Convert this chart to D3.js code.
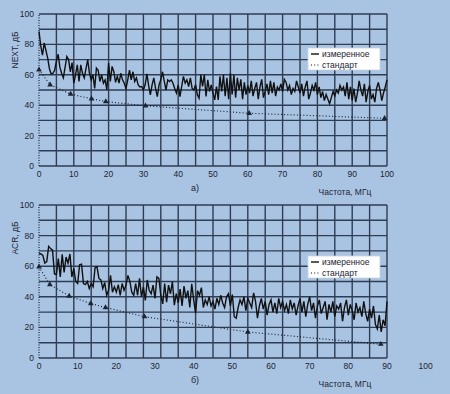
<!DOCTYPE html>
<html lang="ru">
<head>
  <meta charset="UTF-8">
  <title>NEXT / ACR</title>
  <script src="https://d3js.org/d3.v7.min.js"></script>
  <style>
    body { margin: 0; background: #a9c4e2; }
    svg { display: block; }
    text { font-family: "Liberation Sans Narrow", "Arial Narrow", Arial, sans-serif; fill: #1c2433; }
    .grid { stroke: #2f3c52; stroke-width: 1.4px; }
    .meas { fill: none; stroke: #111; stroke-width: 1.4px; }
    .std { fill: none; stroke: #1c2433; stroke-width: 1.2px; stroke-dasharray: 1 2.2; }
  </style>
</head>
<body>
<svg id="svg"></svg>
<script>
// frequency step of the measured curves, MHz
const step = 0.5;

// NEXT (a): measured, every 0.5 MHz from 0 to 100
const nextMeasured = [
  88.6, 79, 73, 81, 76, 71, 64, 60.5, 61, 63, 69,
  73.5, 65, 61, 58, 65, 72, 70, 62, 68, 54.5,
  60, 66.6, 55.6, 66.6, 61, 58, 64, 70, 61, 56.7,
  60, 51, 64.4, 63, 55.6, 60, 54.5, 56.7, 50, 67.7,
  55.6, 65.5, 62, 55, 59, 54.5, 61, 56.7, 54.5, 51,
  56.7, 63, 56.7, 62, 55.6, 58, 53.4, 52, 52.3, 50,
  53.4, 60.6, 53, 46.8, 53.4, 58, 51, 45.7, 53.4, 56.7,
  62, 55.6, 50, 56.7, 55.6, 56.7, 54.5, 51, 48, 53.4,
  45.7, 52.3, 59, 54.5, 56.7, 52.3, 58, 51, 50, 53.4,
  46.8, 44.6, 60, 52.3, 60, 45.7, 56.7, 49, 53.4, 48,
  43.5, 52.3, 43.5, 59, 49, 60, 46, 58, 44, 61,
  47, 60, 45, 58, 50, 57, 44, 55, 47, 53,
  48, 56, 46, 51, 55, 44, 52, 57, 45, 49,
  54, 47, 56, 48, 55, 46, 52, 50, 54, 49,
  57, 55, 50, 53, 47, 51, 49, 56, 52, 48,
  54, 46, 52, 56, 44, 48, 53, 50, 55, 47,
  52, 45, 49, 43, 47, 44, 41, 45, 49, 46,
  50, 48, 53, 50, 52, 46, 55, 44, 52, 43,
  51, 42, 48, 56, 50, 46, 54, 42, 49, 53,
  44, 47, 42, 51, 55, 50, 43, 48, 52, 56.7
];
// NEXT (a): standard
const nextStdFreq = [0, 3.2, 9.1, 15.1, 19.2, 30.6, 60.4, 99.3];
const nextStdVal  = [63.3, 53.4, 47.3, 44.2, 42.4, 39.6, 34.7, 31.4];

// ACR (b): measured, every 0.5 MHz from 0 to 90
const acrMeasured = [
  68.3, 68, 67, 62, 63, 73, 71.5, 70.5, 55, 54.6, 65,
  53, 67.7, 56, 66, 62, 68, 53, 58.5, 50, 48.7,
  61, 61.4, 48.7, 48, 50, 45.4, 48.7, 46.5, 59, 59.6,
  52, 51, 45.4, 49.3, 41, 44.3, 54, 43, 46.5, 43,
  48, 41, 48.7, 44.3, 47.6, 54, 50, 43, 41, 48.7,
  41, 52, 40, 46.5, 37.6, 51, 44.3, 42, 47.6, 38.9,
  53, 52, 41, 35.4, 48.7, 36.5, 47.6, 42, 50, 34.5,
  42, 36, 45, 34, 47, 39, 44, 33, 48.5, 38,
  29.3, 44, 41, 46, 33, 38, 35, 40, 34, 37,
  32, 39, 35, 41, 36, 33, 40, 42, 34, 41.5,
  27, 26, 33, 38, 35, 40, 31, 39, 36, 33,
  42.6, 37, 26, 34, 39, 32, 37, 28, 35, 38,
  30, 36, 29, 39, 33, 37, 31, 35, 29, 38,
  32, 36, 28, 34, 39, 30, 37, 27, 35, 40,
  31, 36, 26, 34, 38, 29, 33, 37, 25, 35,
  30, 37, 27, 34, 32, 36, 24, 33, 38, 28,
  35, 31, 25, 36, 30, 33, 27, 37, 29, 24,
  32, 26, 34, 22, 19, 28, 17, 25, 21, 37
];
// ACR (b): standard
const acrStdFreq = [0, 2.8, 7.8, 13.4, 17.2, 27.3, 54, 88.4];
const acrStdVal  = [59.6, 48, 40.5, 35.6, 33, 27, 17, 9];

const xTicks = [0, 10, 20, 30, 40, 50, 60, 70, 80, 90, 100];
const yTicks = [0, 20, 40, 60, 80, 100];
const legendNames = ["измеренное", "стандарт"];

const W = 450, H = 394;
const svg = d3.select("#svg").attr("width", W).attr("height", H);
svg.append("rect").attr("width", W).attr("height", H).attr("fill", "#a9c4e2");

function drawPanel(p) {
  const g = svg.append("g");
  const x = d3.scaleLinear().domain([0, p.xMax]).range([39, 387]);
  const y = d3.scaleLinear().domain([0, 100]).range([p.bottom, p.top]);

  // grid: 20 columns across the plot, rows every 10
  const cols = d3.range(0, 21).map(i => i * p.xMax / 20);
  g.selectAll(".vg").data(cols).join("line")
    .attr("class", "grid")
    .attr("x1", d => x(d)).attr("x2", d => x(d))
    .attr("y1", y(0)).attr("y2", y(100))
    .attr("stroke-dasharray", d => d == 0 ? "1 1.5" : null)
    .attr("stroke-width", d => d == 0 ? 1 : null);
  g.selectAll(".hg").data(d3.range(0, 101, 10)).join("line")
    .attr("class", "grid")
    .attr("x1", x(0)).attr("x2", x(p.xMax))
    .attr("y1", d => y(d)).attr("y2", d => y(d));

  // tick labels
  g.selectAll(".yt").data(yTicks).join("text")
    .attr("x", 34).attr("y", d => y(d) + 3)
    .attr("text-anchor", "end").attr("font-size", 8.5)
    .text(d => d);
  g.selectAll(".xt").data(xTicks).join("text")
    .attr("x", d => x(d)).attr("y", y(0) + 11)
    .attr("text-anchor", "middle").attr("font-size", 8.5)
    .text(d => d);

  // axis titles
  g.append("text")
    .attr("transform", `translate(18,${p.yLabelAt}) rotate(-90)`)
    .attr("text-anchor", "middle").attr("font-size", 8.5)
    .text(p.yLabel);
  g.append("text").attr("x", 195).attr("y", y(0) + 25)
    .attr("text-anchor", "middle").attr("font-size", 9).text(p.tag);
  g.append("text").attr("x", 345).attr("y", y(0) + 29)
    .attr("text-anchor", "middle").attr("font-size", 8.5).text("Частота, МГц");

  // standard curve and markers
  const std = p.stdFreq.map((f, i) => [f, p.stdVal[i]]);
  g.append("path").attr("class", "std")
    .attr("d", d3.line().x(d => x(d[0])).y(d => y(d[1]))(std));
  g.selectAll(".mk").data(std).join("path")
    .attr("d", d3.symbol(d3.symbolTriangle, 14))
    .attr("transform", d => `translate(${x(d[0])},${y(d[1])})`)
    .attr("fill", "#1c2433");

  // measured curve
  g.append("path").attr("class", "meas")
    .attr("d", d3.line().x((d, i) => x(i * step)).y(d => y(d))(p.measured));

  // legend
  const lg = g.append("g").attr("transform", `translate(308,${p.legendY})`);
  lg.append("rect").attr("width", 72).attr("height", 22)
    .attr("fill", "#fff").attr("stroke", "#c8d2de").attr("stroke-width", 0.8);
  lg.selectAll("line").data(legendNames).join("line")
    .attr("x1", 3).attr("x2", 11)
    .attr("y1", (d, i) => 6 + i * 11).attr("y2", (d, i) => 6 + i * 11)
    .attr("stroke", "#111")
    .attr("stroke-width", (d, i) => i == 0 ? 1.4 : 1.2)
    .attr("stroke-dasharray", (d, i) => i == 0 ? null : "1 2.2");
  lg.selectAll("text").data(legendNames).join("text")
    .attr("x", 14).attr("y", (d, i) => 9 + i * 11)
    .attr("font-size", 8.5).text(d => d);
}

drawPanel({ xMax: 100, top: 14, bottom: 166, measured: nextMeasured,
  stdFreq: nextStdFreq, stdVal: nextStdVal, yLabel: "NEXT, дБ", yLabelAt: 50,
  tag: "а)", legendY: 48 });
drawPanel({ xMax: 90, top: 205, bottom: 358, measured: acrMeasured,
  stdFreq: acrStdFreq, stdVal: acrStdVal, yLabel: "ACR, дБ", yLabelAt: 238,
  tag: "б)", legendY: 256 });
</script>
</body>
</html>
